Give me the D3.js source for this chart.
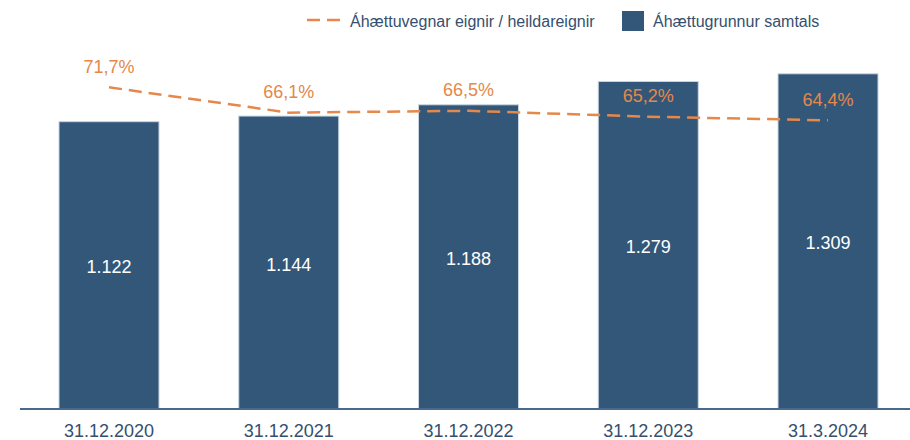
<!DOCTYPE html>
<html>
<head>
<meta charset="utf-8">
<script src="https://cdn.jsdelivr.net/npm/d3@7"></script>
<style>
  html, body { margin: 0; padding: 0; background: #fff; }
  svg { display: block; font-family: "Liberation Sans", Arial, sans-serif; }
</style>
</head>
<body>
<svg id="chart" width="910" height="440"></svg>
<script>
// Reporting dates
const categories = ["31.12.2020", "31.12.2021", "31.12.2022", "31.12.2023", "31.3.2024"];
// Total risk base (bars)
const riskBase = [1122, 1144, 1188, 1279, 1309];
// Risk-weighted assets / total assets, % (dashed line)
const rwaRatio = [71.7, 66.1, 66.5, 65.2, 64.4];
// Legend entries
const legendLabels = ["Áhættuvegnar eignir / heildareignir", "Áhættugrunnur samtals"];

const barColor = "#335779";
const lineColor = "#e5884a";
const textColor = "#34506e";

const svg = d3.select("#chart");

const x = d3.scaleBand()
  .domain(categories)
  .range([19, 918])
  .paddingInner(0.4437)
  .paddingOuter(0.2225);

const y = d3.scaleLinear().domain([0, 1400]).range([409, 50.5]);
const y2 = d3.scaleLinear().domain([0, 80]).range([411.4, 49.8]);

const fmtNum = v => d3.format(",")(v).replace(/,/g, ".");
const fmtPct = v => v.toFixed(1).replace(".", ",") + "%";

// Bars
svg.append("g").selectAll("rect")
  .data(riskBase)
  .join("rect")
  .attr("x", (d, i) => x(categories[i]))
  .attr("y", d => y(d))
  .attr("width", x.bandwidth())
  .attr("height", d => y(0) - y(d))
  .attr("fill", barColor)
  .attr("stroke", "#c9d5e1")
  .attr("stroke-width", 1);

// Bar value labels
svg.append("g").selectAll("text")
  .data(riskBase)
  .join("text")
  .attr("x", (d, i) => x(categories[i]) + x.bandwidth() / 2)
  .attr("y", d => (y(d) + y(0)) / 2 + 8)
  .attr("text-anchor", "middle")
  .attr("font-size", 18)
  .attr("fill", "#ffffff")
  .text(fmtNum);

// Baseline axis
const xAxis = d3.axisBottom(x).tickSize(0).tickPadding(16);
const gx = svg.append("g").attr("transform", "translate(0,409)").call(xAxis);
gx.select(".domain").attr("d", "M20,0H910").attr("stroke", "#4a6a8c").attr("stroke-width", 2);
gx.selectAll("text")
  .attr("font-size", 18)
  .attr("font-family", "Liberation Sans, Arial, sans-serif")
  .attr("fill", textColor)
  .attr("dy", "0.71em")
  .attr("y", 15);

// Dashed ratio line
const line = d3.line()
  .x((d, i) => x(categories[i]) + x.bandwidth() / 2)
  .y(d => y2(d));

svg.append("path")
  .datum(rwaRatio)
  .attr("d", line)
  .attr("fill", "none")
  .attr("stroke", lineColor)
  .attr("stroke-width", 2.5)
  .attr("stroke-dasharray", "13,7");

// Ratio labels
svg.append("g").selectAll("text")
  .data(rwaRatio)
  .join("text")
  .attr("x", (d, i) => x(categories[i]) + x.bandwidth() / 2)
  .attr("y", d => y2(d) - 14.5)
  .attr("text-anchor", "middle")
  .attr("font-size", 18)
  .attr("fill", lineColor)
  .text(fmtPct);

// Legend
const legend = svg.append("g");
legend.append("line")
  .attr("x1", 307).attr("x2", 340).attr("y1", 20).attr("y2", 20)
  .attr("stroke", lineColor).attr("stroke-width", 2.5)
  .attr("stroke-dasharray", "13,7");
legend.append("text")
  .attr("x", 350).attr("y", 27)
  .attr("font-size", 16).attr("fill", textColor)
  .text(legendLabels[0]);
legend.append("rect")
  .attr("x", 622).attr("y", 11).attr("width", 22).attr("height", 20)
  .attr("fill", barColor);
legend.append("text")
  .attr("x", 653).attr("y", 27)
  .attr("font-size", 16).attr("fill", textColor)
  .text(legendLabels[1]);
</script>
</body>
</html>
